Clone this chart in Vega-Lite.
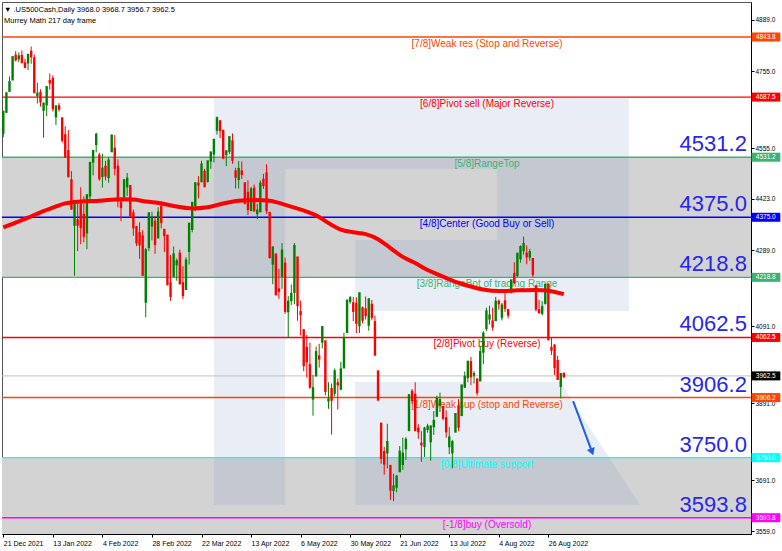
{
"$schema": "https://vega.github.io/schema/vega-lite/v6.json",
"width": 749, "height": 532,
"autosize": {"type": "none"},
"padding": {"left": 2, "top": 2, "right": 31, "bottom": 17},
"background": "white",
"config": {"view": {"stroke": "#555", "strokeWidth": 1}, "font": "Liberation Sans"},
"title": {"text": ["▼ .US500Cash,Daily  3968.0 3968.7 3956.7 3962.5", "Murrey Math 217 day frame"], "anchor": "start", "frame": "group", "orient": "top", "offset": -22, "fontSize": 7.5, "fontWeight": "normal", "font": "Liberation Sans", "color": "#000", "lineHeight": 11, "dx": 2},
"datasets": {
"bands": [{"top": 4531.2, "bot": 4218.8}, {"top": 3750.0, "bot": 3551.4}],
"logo": [
{"i0": 68.0, "i1": 91.0, "v0": 3626.8, "v1": 4685.2},
{"i0": 91.0, "i1": 202.0, "v0": 4500.5, "v1": 4685.2},
{"i0": 159.4, "i1": 202.0, "v0": 4131.3, "v1": 4500.5},
{"i0": 113.6, "i1": 159.4, "v0": 4131.3, "v1": 4315.9}
],
"logoLeg": [
{"i": 113.6, "top": 3946.7, "bot": 3626.8},
{"i": 179.8, "top": 3946.7, "bot": 3626.8},
{"i": 205.6, "top": 3626.8, "bot": 3626.8}
],
"levels": [
{"lvl": 4843.8, "name": "[7/8]Weak res (Stop and Reverse)"},
{"lvl": 4687.5, "name": "[6/8]Pivot sell (Major Reverse)"},
{"lvl": 4531.2, "name": "[5/8]RangeTop"},
{"lvl": 4375.0, "name": "[4/8]Center (Good Buy or Sell)"},
{"lvl": 4218.8, "name": "[3/8]RangeBot of trading Range"},
{"lvl": 4062.5, "name": "[2/8]Pivot buy (Reverse)"},
{"lvl": 3906.2, "name": "[1/8]Weak sup (stop and Reverse)"},
{"lvl": 3750.0, "name": "[0/8]Ultimate support"},
{"lvl": 3593.8, "name": "[-1/8]buy (Oversold)"}
],
"ma": [
{"i":0,"v":4349},{"i":4,"v":4361},{"i":8,"v":4374},{"i":12,"v":4388},{"i":16,"v":4400},{"i":20,"v":4411},{"i":25,"v":4416},{"i":31,"v":4418},{"i":38,"v":4422},{"i":42,"v":4421},{"i":46,"v":4416},{"i":51,"v":4411},{"i":56,"v":4403},{"i":61,"v":4398},{"i":66,"v":4401},{"i":71,"v":4411},{"i":76,"v":4418},{"i":81,"v":4420},{"i":86,"v":4418},{"i":90,"v":4410},{"i":94,"v":4400},{"i":98,"v":4390},{"i":101,"v":4380},{"i":105,"v":4360},{"i":109,"v":4343},{"i":113,"v":4336},{"i":117,"v":4331},{"i":121,"v":4318},{"i":125,"v":4295},{"i":129,"v":4272},{"i":133,"v":4256},{"i":137,"v":4238},{"i":141,"v":4224},{"i":145,"v":4210},{"i":150,"v":4197},{"i":155,"v":4187},{"i":160,"v":4183},{"i":166,"v":4185},{"i":172,"v":4186},{"i":176,"v":4184},{"i":181,"v":4175}
],
"arrow": [{"i": 184.0, "v": 3897}, {"i": 190.1, "v": 3765}],
"candles": [
{"i":0,"d":"2021-12-21","o":4595,"h":4651,"l":4583,"c":4649},
{"i":1,"d":"2021-12-22","o":4650,"h":4698,"l":4646,"c":4697},
{"i":2,"d":"2021-12-23","o":4704,"h":4741,"l":4704,"c":4726},
{"i":3,"d":"2021-12-27","o":4734,"h":4791,"l":4734,"c":4791},
{"i":4,"d":"2021-12-28","o":4795,"h":4807,"l":4780,"c":4786},
{"i":5,"d":"2021-12-29","o":4789,"h":4804,"l":4778,"c":4793},
{"i":6,"d":"2021-12-30","o":4794,"h":4809,"l":4775,"c":4779},
{"i":7,"d":"2021-12-31","o":4775,"h":4787,"l":4766,"c":4766},
{"i":8,"d":"2022-01-03","o":4778,"h":4797,"l":4758,"c":4797},
{"i":9,"d":"2022-01-04","o":4805,"h":4819,"l":4774,"c":4794},
{"i":10,"d":"2022-01-05","o":4788,"h":4798,"l":4699,"c":4701},
{"i":11,"d":"2022-01-06","o":4693,"h":4725,"l":4671,"c":4696},
{"i":12,"d":"2022-01-07","o":4698,"h":4708,"l":4663,"c":4677},
{"i":13,"d":"2022-01-10","o":4655,"h":4673,"l":4582,"c":4670},
{"i":14,"d":"2022-01-11","o":4669,"h":4714,"l":4638,"c":4713},
{"i":15,"d":"2022-01-12","o":4729,"h":4749,"l":4707,"c":4726},
{"i":16,"d":"2022-01-13","o":4734,"h":4744,"l":4650,"c":4659},
{"i":17,"d":"2022-01-14","o":4638,"h":4665,"l":4615,"c":4663},
{"i":18,"d":"2022-01-17","o":4663,"h":4672,"l":4650,"c":4658},
{"i":19,"d":"2022-01-18","o":4632,"h":4632,"l":4569,"c":4577},
{"i":20,"d":"2022-01-19","o":4588,"h":4612,"l":4530,"c":4533},
{"i":21,"d":"2022-01-20","o":4547,"h":4602,"l":4478,"c":4483},
{"i":22,"d":"2022-01-21","o":4471,"h":4495,"l":4395,"c":4398},
{"i":23,"d":"2022-01-24","o":4356,"h":4417,"l":4223,"c":4410},
{"i":24,"d":"2022-01-25","o":4367,"h":4411,"l":4287,"c":4356},
{"i":25,"d":"2022-01-26","o":4408,"h":4453,"l":4305,"c":4350},
{"i":26,"d":"2022-01-27","o":4381,"h":4429,"l":4310,"c":4327},
{"i":27,"d":"2022-01-28","o":4336,"h":4433,"l":4292,"c":4432},
{"i":28,"d":"2022-01-31","o":4432,"h":4517,"l":4414,"c":4516},
{"i":29,"d":"2022-02-01","o":4520,"h":4550,"l":4484,"c":4547},
{"i":30,"d":"2022-02-02","o":4566,"h":4595,"l":4544,"c":4589},
{"i":31,"d":"2022-02-03","o":4535,"h":4543,"l":4470,"c":4477},
{"i":32,"d":"2022-02-04","o":4483,"h":4540,"l":4452,"c":4501},
{"i":33,"d":"2022-02-07","o":4506,"h":4522,"l":4471,"c":4484},
{"i":34,"d":"2022-02-08","o":4480,"h":4531,"l":4465,"c":4522},
{"i":35,"d":"2022-02-09","o":4547,"h":4590,"l":4547,"c":4587},
{"i":36,"d":"2022-02-10","o":4553,"h":4589,"l":4484,"c":4504},
{"i":37,"d":"2022-02-11","o":4506,"h":4526,"l":4401,"c":4419},
{"i":38,"d":"2022-02-14","o":4413,"h":4426,"l":4365,"c":4402},
{"i":39,"d":"2022-02-15","o":4429,"h":4473,"l":4429,"c":4471},
{"i":40,"d":"2022-02-16","o":4456,"h":4490,"l":4430,"c":4475},
{"i":41,"d":"2022-02-17","o":4456,"h":4456,"l":4374,"c":4380},
{"i":42,"d":"2022-02-18","o":4385,"h":4395,"l":4327,"c":4349},
{"i":43,"d":"2022-02-21","o":4349,"h":4352,"l":4300,"c":4310},
{"i":44,"d":"2022-02-22","o":4333,"h":4362,"l":4267,"c":4305},
{"i":45,"d":"2022-02-23","o":4325,"h":4342,"l":4222,"c":4226},
{"i":46,"d":"2022-02-24","o":4156,"h":4295,"l":4115,"c":4289},
{"i":47,"d":"2022-02-25","o":4298,"h":4385,"l":4287,"c":4385},
{"i":48,"d":"2022-02-28","o":4354,"h":4389,"l":4315,"c":4374},
{"i":49,"d":"2022-03-01","o":4363,"h":4378,"l":4280,"c":4306},
{"i":50,"d":"2022-03-02","o":4323,"h":4401,"l":4323,"c":4387},
{"i":51,"d":"2022-03-03","o":4401,"h":4417,"l":4346,"c":4363},
{"i":52,"d":"2022-03-04","o":4342,"h":4342,"l":4285,"c":4329},
{"i":53,"d":"2022-03-07","o":4327,"h":4327,"l":4200,"c":4201},
{"i":54,"d":"2022-03-08","o":4203,"h":4277,"l":4158,"c":4171},
{"i":55,"d":"2022-03-09","o":4223,"h":4299,"l":4223,"c":4278},
{"i":56,"d":"2022-03-10","o":4253,"h":4268,"l":4210,"c":4260},
{"i":57,"d":"2022-03-11","o":4280,"h":4291,"l":4200,"c":4204},
{"i":58,"d":"2022-03-14","o":4203,"h":4248,"l":4162,"c":4173},
{"i":59,"d":"2022-03-15","o":4189,"h":4271,"l":4188,"c":4262},
{"i":60,"d":"2022-03-16","o":4288,"h":4359,"l":4252,"c":4358},
{"i":61,"d":"2022-03-17","o":4345,"h":4413,"l":4336,"c":4412},
{"i":62,"d":"2022-03-18","o":4407,"h":4465,"l":4391,"c":4463},
{"i":63,"d":"2022-03-21","o":4462,"h":4482,"l":4424,"c":4461},
{"i":64,"d":"2022-03-22","o":4469,"h":4522,"l":4469,"c":4512},
{"i":65,"d":"2022-03-23","o":4493,"h":4501,"l":4456,"c":4456},
{"i":66,"d":"2022-03-24","o":4470,"h":4521,"l":4465,"c":4520},
{"i":67,"d":"2022-03-25","o":4523,"h":4546,"l":4501,"c":4543},
{"i":68,"d":"2022-03-28","o":4541,"h":4576,"l":4518,"c":4576},
{"i":69,"d":"2022-03-29","o":4603,"h":4637,"l":4590,"c":4632},
{"i":70,"d":"2022-03-30","o":4624,"h":4628,"l":4581,"c":4602},
{"i":71,"d":"2022-03-31","o":4599,"h":4603,"l":4530,"c":4530},
{"i":72,"d":"2022-04-01","o":4540,"h":4549,"l":4508,"c":4546},
{"i":73,"d":"2022-04-04","o":4548,"h":4584,"l":4539,"c":4583},
{"i":74,"d":"2022-04-05","o":4572,"h":4593,"l":4514,"c":4525},
{"i":75,"d":"2022-04-06","o":4494,"h":4504,"l":4450,"c":4481},
{"i":76,"d":"2022-04-07","o":4475,"h":4521,"l":4450,"c":4500},
{"i":77,"d":"2022-04-08","o":4494,"h":4520,"l":4475,"c":4488},
{"i":78,"d":"2022-04-11","o":4463,"h":4464,"l":4408,"c":4413},
{"i":79,"d":"2022-04-12","o":4438,"h":4471,"l":4381,"c":4397},
{"i":80,"d":"2022-04-13","o":4394,"h":4454,"l":4393,"c":4447},
{"i":81,"d":"2022-04-14","o":4449,"h":4460,"l":4392,"c":4393},
{"i":82,"d":"2022-04-18","o":4386,"h":4410,"l":4370,"c":4392},
{"i":83,"d":"2022-04-19","o":4391,"h":4471,"l":4391,"c":4462},
{"i":84,"d":"2022-04-20","o":4472,"h":4488,"l":4449,"c":4459},
{"i":85,"d":"2022-04-21","o":4489,"h":4513,"l":4384,"c":4394},
{"i":86,"d":"2022-04-22","o":4386,"h":4386,"l":4268,"c":4272},
{"i":87,"d":"2022-04-25","o":4255,"h":4299,"l":4201,"c":4296},
{"i":88,"d":"2022-04-26","o":4278,"h":4278,"l":4175,"c":4175},
{"i":89,"d":"2022-04-27","o":4187,"h":4241,"l":4163,"c":4184},
{"i":90,"d":"2022-04-28","o":4223,"h":4308,"l":4189,"c":4288},
{"i":91,"d":"2022-04-29","o":4254,"h":4270,"l":4124,"c":4132},
{"i":92,"d":"2022-05-02","o":4131,"h":4170,"l":4063,"c":4155},
{"i":93,"d":"2022-05-03","o":4160,"h":4200,"l":4147,"c":4175},
{"i":94,"d":"2022-05-04","o":4181,"h":4308,"l":4149,"c":4300},
{"i":95,"d":"2022-05-05","o":4270,"h":4270,"l":4106,"c":4147},
{"i":96,"d":"2022-05-06","o":4128,"h":4158,"l":4068,"c":4123},
{"i":97,"d":"2022-05-09","o":4081,"h":4081,"l":3975,"c":3991},
{"i":98,"d":"2022-05-10","o":4035,"h":4069,"l":3958,"c":4001},
{"i":99,"d":"2022-05-11","o":3990,"h":4049,"l":3929,"c":3935},
{"i":100,"d":"2022-05-12","o":3904,"h":3965,"l":3859,"c":3930},
{"i":101,"d":"2022-05-13","o":3964,"h":4039,"l":3964,"c":4024},
{"i":102,"d":"2022-05-16","o":4013,"h":4046,"l":3984,"c":4008},
{"i":103,"d":"2022-05-17","o":4052,"h":4091,"l":4034,"c":4089},
{"i":104,"d":"2022-05-18","o":4052,"h":4052,"l":3912,"c":3924},
{"i":105,"d":"2022-05-19","o":3899,"h":3946,"l":3877,"c":3901},
{"i":106,"d":"2022-05-20","o":3928,"h":3943,"l":3810,"c":3901},
{"i":107,"d":"2022-05-23","o":3919,"h":3982,"l":3909,"c":3974},
{"i":108,"d":"2022-05-24","o":3943,"h":3956,"l":3875,"c":3941},
{"i":109,"d":"2022-05-25","o":3930,"h":3999,"l":3925,"c":3979},
{"i":110,"d":"2022-05-26","o":3985,"h":4075,"l":3985,"c":4058},
{"i":111,"d":"2022-05-27","o":4077,"h":4158,"l":4077,"c":4158},
{"i":112,"d":"2022-05-30","o":4158,"h":4170,"l":4150,"c":4164},
{"i":113,"d":"2022-05-31","o":4151,"h":4168,"l":4105,"c":4132},
{"i":114,"d":"2022-06-01","o":4150,"h":4167,"l":4074,"c":4101},
{"i":115,"d":"2022-06-02","o":4095,"h":4178,"l":4074,"c":4177},
{"i":116,"d":"2022-06-03","o":4138,"h":4143,"l":4099,"c":4109},
{"i":117,"d":"2022-06-06","o":4135,"h":4169,"l":4109,"c":4121},
{"i":118,"d":"2022-06-07","o":4096,"h":4165,"l":4080,"c":4161},
{"i":119,"d":"2022-06-08","o":4147,"h":4160,"l":4107,"c":4116},
{"i":120,"d":"2022-06-09","o":4102,"h":4119,"l":4017,"c":4018},
{"i":121,"d":"2022-06-10","o":3974,"h":3974,"l":3900,"c":3901},
{"i":122,"d":"2022-06-13","o":3838,"h":3838,"l":3734,"c":3750},
{"i":123,"d":"2022-06-14","o":3764,"h":3778,"l":3706,"c":3735},
{"i":124,"d":"2022-06-15","o":3764,"h":3838,"l":3722,"c":3790},
{"i":125,"d":"2022-06-16","o":3728,"h":3728,"l":3640,"c":3667},
{"i":126,"d":"2022-06-17","o":3666,"h":3708,"l":3637,"c":3675},
{"i":127,"d":"2022-06-20","o":3675,"h":3705,"l":3660,"c":3700},
{"i":128,"d":"2022-06-21","o":3715,"h":3780,"l":3715,"c":3765},
{"i":129,"d":"2022-06-22","o":3734,"h":3802,"l":3718,"c":3760},
{"i":130,"d":"2022-06-23","o":3775,"h":3803,"l":3744,"c":3796},
{"i":131,"d":"2022-06-24","o":3822,"h":3914,"l":3822,"c":3912},
{"i":132,"d":"2022-06-27","o":3921,"h":3928,"l":3890,"c":3900},
{"i":133,"d":"2022-06-28","o":3913,"h":3946,"l":3820,"c":3822},
{"i":134,"d":"2022-06-29","o":3825,"h":3837,"l":3799,"c":3819},
{"i":135,"d":"2022-06-30","o":3786,"h":3819,"l":3739,"c":3785},
{"i":136,"d":"2022-07-01","o":3781,"h":3830,"l":3752,"c":3825},
{"i":137,"d":"2022-07-04","o":3825,"h":3838,"l":3815,"c":3830},
{"i":138,"d":"2022-07-05","o":3793,"h":3832,"l":3742,"c":3831},
{"i":139,"d":"2022-07-06","o":3832,"h":3871,"l":3809,"c":3845},
{"i":140,"d":"2022-07-07","o":3859,"h":3911,"l":3859,"c":3903},
{"i":141,"d":"2022-07-08","o":3888,"h":3919,"l":3869,"c":3899},
{"i":142,"d":"2022-07-11","o":3881,"h":3881,"l":3847,"c":3854},
{"i":143,"d":"2022-07-12","o":3852,"h":3873,"l":3802,"c":3819},
{"i":144,"d":"2022-07-13","o":3780,"h":3829,"l":3759,"c":3802},
{"i":145,"d":"2022-07-14","o":3764,"h":3796,"l":3722,"c":3790},
{"i":146,"d":"2022-07-15","o":3818,"h":3864,"l":3817,"c":3863},
{"i":147,"d":"2022-07-18","o":3884,"h":3902,"l":3819,"c":3831},
{"i":148,"d":"2022-07-19","o":3861,"h":3940,"l":3861,"c":3937},
{"i":149,"d":"2022-07-20","o":3935,"h":3974,"l":3931,"c":3960},
{"i":150,"d":"2022-07-21","o":3960,"h":3999,"l":3946,"c":3999},
{"i":151,"d":"2022-07-22","o":3998,"h":4012,"l":3939,"c":3962},
{"i":152,"d":"2022-07-25","o":3966,"h":3975,"l":3943,"c":3967},
{"i":153,"d":"2022-07-26","o":3953,"h":3953,"l":3911,"c":3921},
{"i":154,"d":"2022-07-27","o":3951,"h":4040,"l":3951,"c":4024},
{"i":155,"d":"2022-07-28","o":4026,"h":4079,"l":3993,"c":4072},
{"i":156,"d":"2022-07-29","o":4087,"h":4140,"l":4079,"c":4130},
{"i":157,"d":"2022-08-01","o":4112,"h":4145,"l":4096,"c":4119},
{"i":158,"d":"2022-08-02","o":4104,"h":4140,"l":4080,"c":4091},
{"i":159,"d":"2022-08-03","o":4108,"h":4168,"l":4108,"c":4155},
{"i":160,"d":"2022-08-04","o":4155,"h":4161,"l":4135,"c":4152},
{"i":161,"d":"2022-08-05","o":4116,"h":4152,"l":4107,"c":4145},
{"i":162,"d":"2022-08-08","o":4156,"h":4187,"l":4129,"c":4140},
{"i":163,"d":"2022-08-09","o":4133,"h":4137,"l":4112,"c":4122},
{"i":164,"d":"2022-08-10","o":4181,"h":4211,"l":4177,"c":4210},
{"i":165,"d":"2022-08-11","o":4227,"h":4258,"l":4201,"c":4207},
{"i":166,"d":"2022-08-12","o":4225,"h":4280,"l":4220,"c":4280},
{"i":167,"d":"2022-08-15","o":4269,"h":4302,"l":4257,"c":4297},
{"i":168,"d":"2022-08-16","o":4290,"h":4325,"l":4278,"c":4305},
{"i":169,"d":"2022-08-17","o":4280,"h":4302,"l":4253,"c":4274},
{"i":170,"d":"2022-08-18","o":4273,"h":4293,"l":4262,"c":4284},
{"i":171,"d":"2022-08-19","o":4266,"h":4266,"l":4219,"c":4228},
{"i":172,"d":"2022-08-22","o":4195,"h":4195,"l":4130,"c":4138},
{"i":173,"d":"2022-08-23","o":4133,"h":4160,"l":4124,"c":4129},
{"i":174,"d":"2022-08-24","o":4127,"h":4157,"l":4120,"c":4141},
{"i":175,"d":"2022-08-25","o":4153,"h":4201,"l":4148,"c":4199},
{"i":176,"d":"2022-08-26","o":4199,"h":4203,"l":4058,"c":4058},
{"i":177,"d":"2022-08-29","o":4035,"h":4063,"l":4017,"c":4031},
{"i":178,"d":"2022-08-30","o":4041,"h":4045,"l":3965,"c":3986},
{"i":179,"d":"2022-08-31","o":4001,"h":4015,"l":3955,"c":3955},
{"i":180,"d":"2022-09-01","o":3937,"h":3970,"l":3904,"c":3967},
{"i":181,"d":"2022-09-02","o":3968.0,"h":3968.7,"l":3956.7,"c":3962.5}
]
},
"layer": [
{
"data": {"name": "bands"},
"mark": {"type": "rect", "color": "#d3d3d3"},
"encoding": {
"y": {"field": "top", "type": "quantitative", "title": null,
"scale": {"domain": [3551.4, 4934.8], "nice": false, "zero": false},
"axis": {"orient": "right", "values": [4889,4823,4755,4623,4555,4489,4423,4357,4289,4157,4091,4023,3891,3825,3691,3625,3559], "format": ".1f", "labelFontSize": 6.5, "labelColor": "#000", "tickSize": 3, "tickColor": "#000", "domainColor": "#000", "labelPadding": 1, "grid": false, "zindex": 0, "labelFont": "Liberation Sans", "labelOverlap": false}},
"y2": {"field": "bot"}
}
},
{
"data": {"name": "logo"},
"mark": {"type": "rect", "color": "#7d96c4", "opacity": 0.17},
"encoding": {
"x": {"field": "i0", "type": "quantitative"},
"x2": {"field": "i1"},
"y": {"field": "v0", "type": "quantitative", "title": null},
"y2": {"field": "v1"}
}
},
{
"data": {"name": "logoLeg"},
"mark": {"type": "area", "color": "#7d96c4", "opacity": 0.17},
"encoding": {
"x": {"field": "i", "type": "quantitative"},
"y": {"field": "top", "type": "quantitative", "title": null},
"y2": {"field": "bot"}
}
},
{
"data": {"name": "candles"},
"transform": [{"filter": "datum.i == 181"}],
"mark": {"type": "rule", "color": "#c0c0c0", "strokeWidth": 1},
"encoding": {"y": {"field": "c", "type": "quantitative", "title": null}}
},
{
"data": {"name": "levels"},
"mark": {"type": "rule", "strokeWidth": 1.4},
"encoding": {
"y": {"field": "lvl", "type": "quantitative", "title": null},
"color": {"field": "name", "type": "nominal", "legend": null,
"scale": {"domain": ["[7/8]Weak res (Stop and Reverse)", "[6/8]Pivot sell (Major Reverse)", "[5/8]RangeTop", "[4/8]Center (Good Buy or Sell)", "[3/8]RangeBot of trading Range", "[2/8]Pivot buy (Reverse)", "[1/8]Weak sup (stop and Reverse)", "[0/8]Ultimate support", "[-1/8]buy (Oversold)"],
"range": ["#ff4500", "#ff0000", "#3cb371", "#0000ff", "#3cb371", "#ff0000", "#ff4500", "#00ffff", "#ff00ff"]}}
}
},
{
"data": {"name": "levels"},
"mark": {"type": "text", "fontSize": 10, "align": "center", "baseline": "top", "dy": 2, "font": "Liberation Sans"},
"encoding": {
"x": {"datum": 156.2, "type": "quantitative"},
"y": {"field": "lvl", "type": "quantitative", "title": null},
"text": {"field": "name"},
"color": {"field": "name", "type": "nominal", "legend": null}
}
},
{
"data": {"name": "candles"},
"mark": {"type": "rule", "strokeWidth": 1},
"encoding": {
"x": {"field": "i", "type": "quantitative", "title": null,
"scale": {"domain": [-0.42, 241.43], "nice": false, "zero": false},
"axis": {"values": [0,16,32,48,64,80,96,112,128,144,160,176], "labelExpr": "['21 Dec 2021','13 Jan 2022','4 Feb 2022','28 Feb 2022','22 Mar 2022','13 Apr 2022','6 May 2022','30 May 2022','21 Jun 2022','13 Jul 2022','4 Aug 2022','26 Aug 2022'][round(datum.value/16)]", "labelAlign": "left", "labelFontSize": 7, "labelColor": "#000", "tickSize": 3, "tickColor": "#000", "domainColor": "#000", "labelPadding": 2, "grid": false, "zindex": 0, "labelFont": "Liberation Sans", "labelOverlap": false}},
"y": {"field": "l", "type": "quantitative", "title": null},
"y2": {"field": "h"},
"color": {"condition": {"test": "datum.c >= datum.o", "value": "#008000"}, "value": "#ff0000"}
}
},
{
"data": {"name": "candles"},
"mark": {"type": "rule", "strokeWidth": 2.4, "strokeCap": "square"},
"encoding": {
"x": {"field": "i", "type": "quantitative"},
"y": {"field": "o", "type": "quantitative", "title": null},
"y2": {"field": "c"},
"color": {"condition": {"test": "datum.c >= datum.o", "value": "#008000"}, "value": "#ff0000"}
}
},
{
"data": {"name": "ma"},
"mark": {"type": "line", "color": "#ff0000", "strokeWidth": 4, "interpolate": "monotone"},
"encoding": {
"x": {"field": "i", "type": "quantitative"},
"y": {"field": "v", "type": "quantitative", "title": null}
}
},
{
"data": {"name": "levels"},
"transform": [{"filter": "datum.lvl <= 4531.2"}],
"mark": {"type": "text", "fontSize": 22, "align": "right", "baseline": "bottom", "dy": -1, "font": "Liberation Sans", "color": "#2626ee"},
"encoding": {
"x": {"datum": 240.1, "type": "quantitative"},
"y": {"field": "lvl", "type": "quantitative", "title": null},
"text": {"field": "lvl", "type": "quantitative", "format": ".1f"}
}
},
{
"data": {"name": "arrow"},
"mark": {"type": "line", "color": "#1f5fe8", "strokeWidth": 2},
"encoding": {
"x": {"field": "i", "type": "quantitative"},
"y": {"field": "v", "type": "quantitative", "title": null}
}
},
{
"data": {"name": "arrow"},
"transform": [{"filter": "datum.i > 190"}],
"mark": {"type": "point", "shape": "triangle-down", "filled": true, "size": 70, "angle": -20, "color": "#1f5fe8", "opacity": 1},
"encoding": {
"x": {"field": "i", "type": "quantitative"},
"y": {"field": "v", "type": "quantitative", "title": null}
}
},
{
"data": {"name": "levels"},
"mark": {"type": "rule", "strokeWidth": 9},
"encoding": {
"x": {"datum": 241.6, "type": "quantitative"},
"x2": {"datum": 250.9},
"y": {"field": "lvl", "type": "quantitative", "title": null},
"color": {"field": "name", "type": "nominal", "legend": null}
}
},
{
"data": {"name": "candles"},
"transform": [{"filter": "datum.i == 181"}],
"mark": {"type": "rule", "strokeWidth": 9, "color": "#000"},
"encoding": {
"x": {"datum": 241.6, "type": "quantitative"},
"x2": {"datum": 250.9},
"y": {"field": "c", "type": "quantitative", "title": null}
}
},
{
"data": {"name": "levels"},
"mark": {"type": "text", "fontSize": 6.5, "align": "center", "baseline": "middle", "color": "#fff", "font": "Liberation Sans"},
"encoding": {
"x": {"datum": 246.2, "type": "quantitative"},
"y": {"field": "lvl", "type": "quantitative", "title": null},
"text": {"field": "lvl", "type": "quantitative", "format": ".1f"}
}
},
{
"data": {"name": "candles"},
"transform": [{"filter": "datum.i == 181"}],
"mark": {"type": "text", "fontSize": 6.5, "align": "center", "baseline": "middle", "color": "#fff", "font": "Liberation Sans"},
"encoding": {
"x": {"datum": 246.2, "type": "quantitative"},
"y": {"field": "c", "type": "quantitative", "title": null},
"text": {"field": "c", "type": "quantitative", "format": ".1f"}
}
}
]
}
